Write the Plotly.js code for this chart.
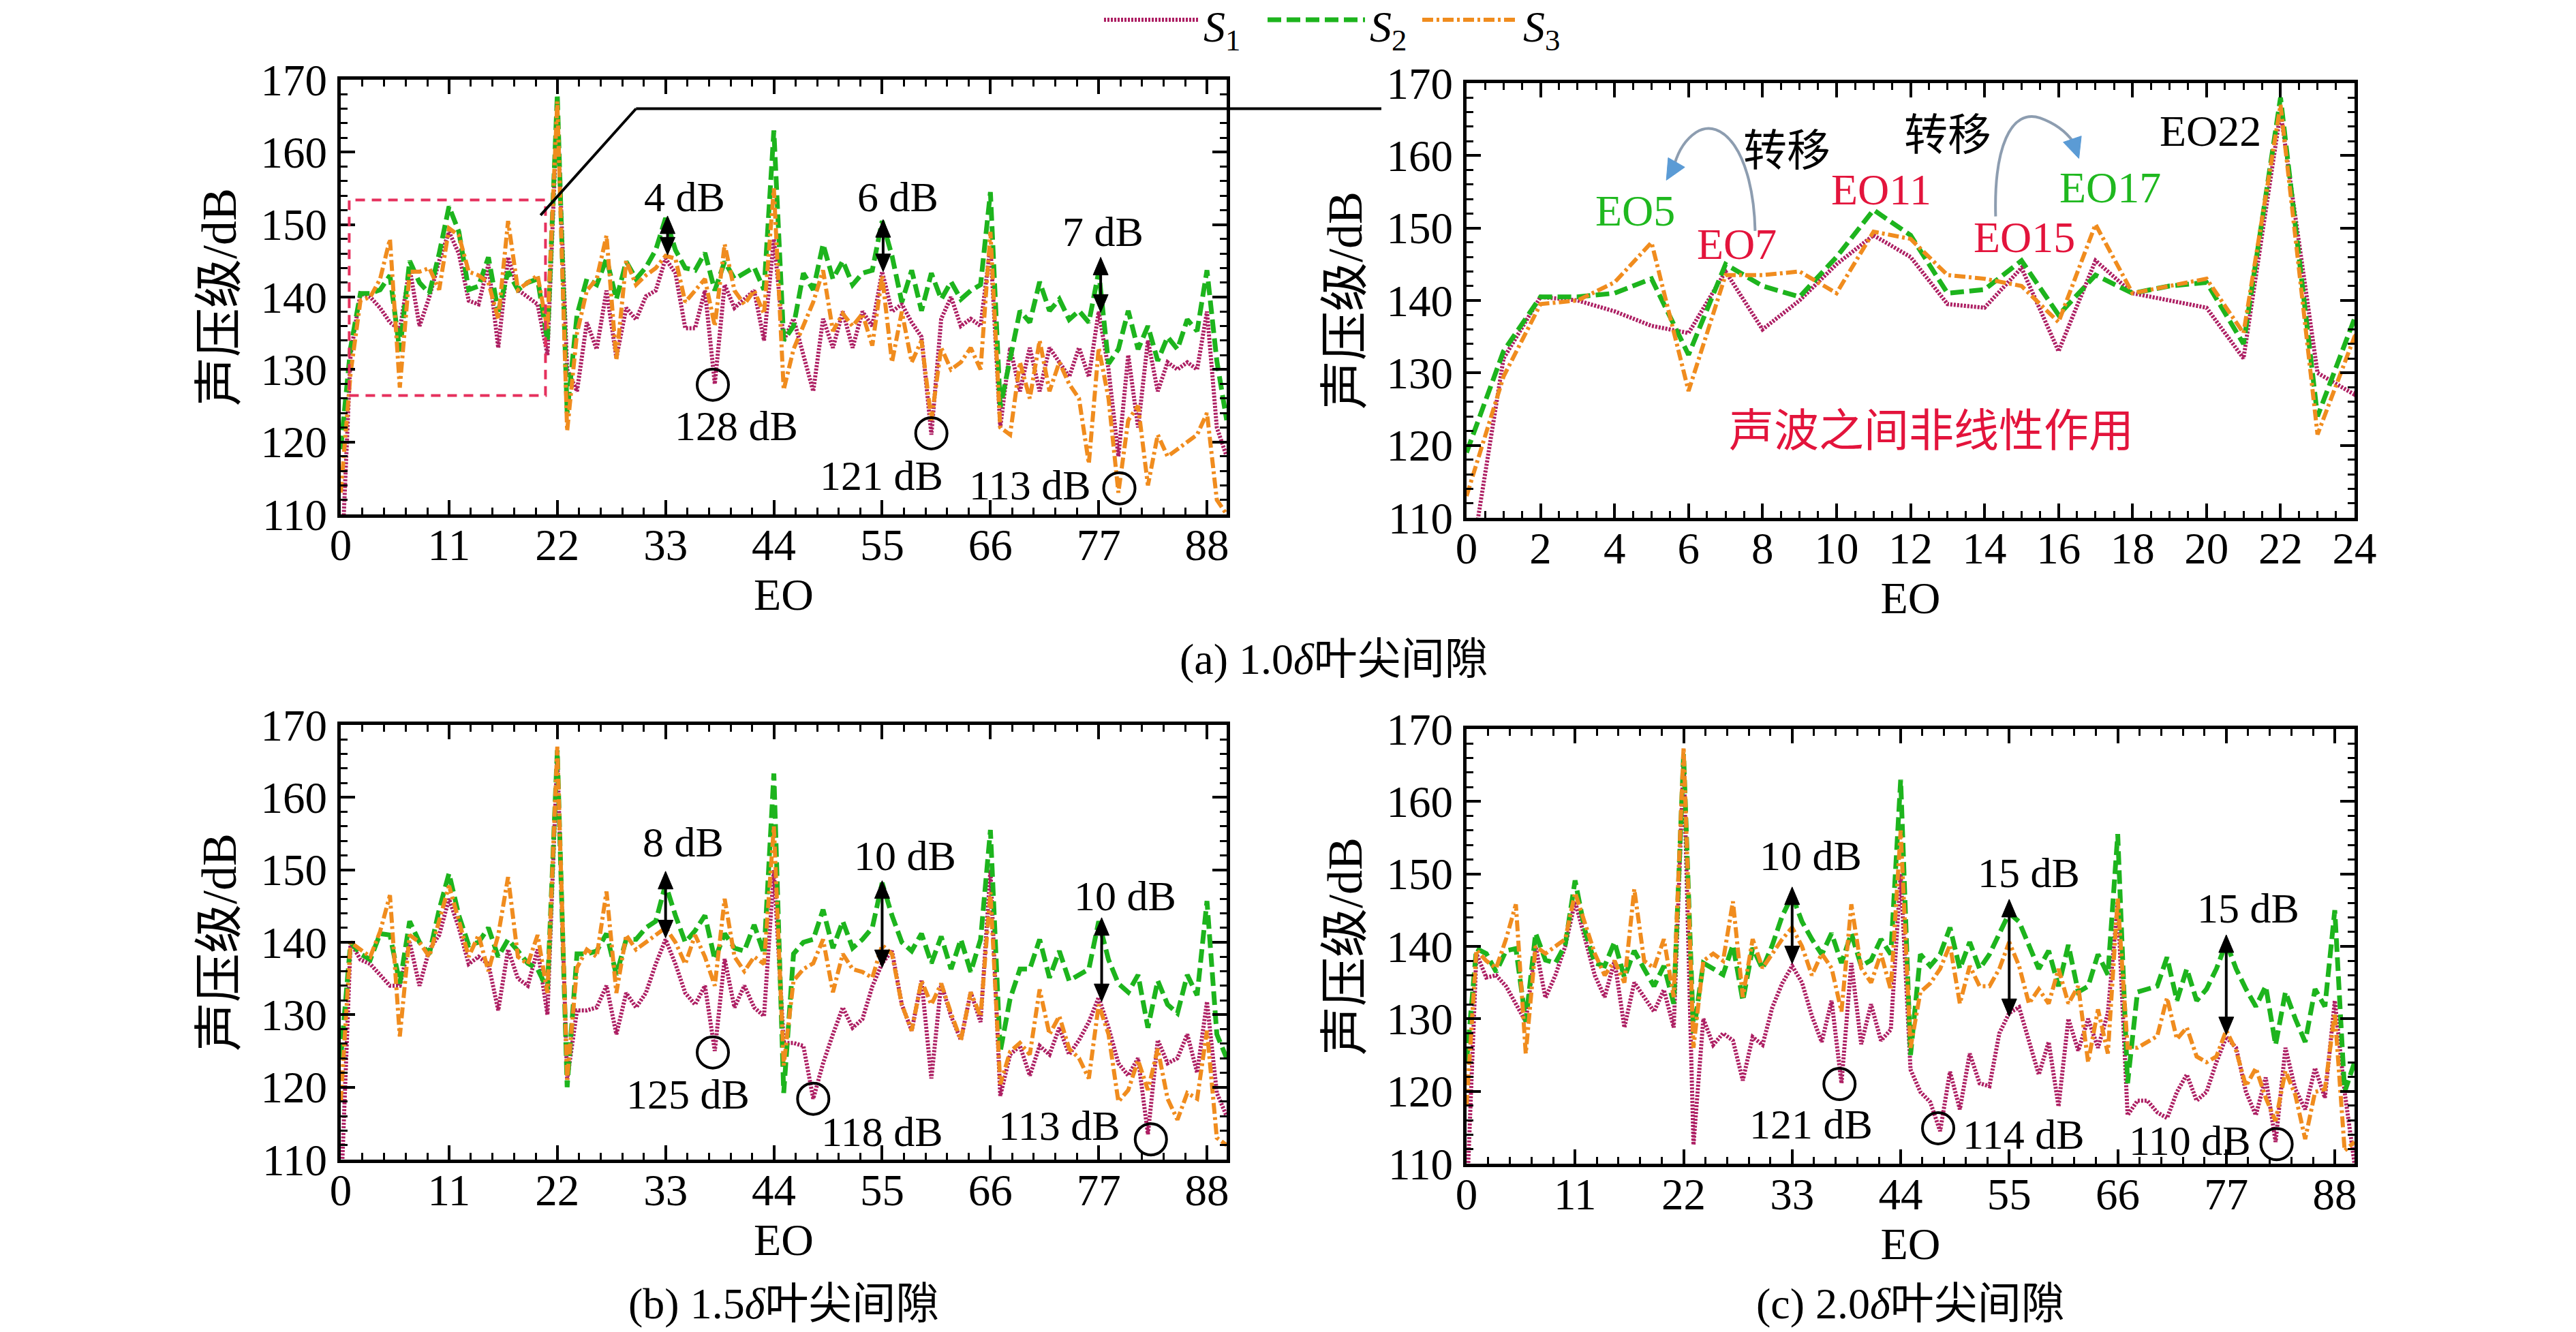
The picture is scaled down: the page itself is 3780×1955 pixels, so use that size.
<!DOCTYPE html>
<html><head><meta charset="utf-8">
<script src="https://cdn.plot.ly/plotly-3.0.1.min.js"></script>
<style>html,body{margin:0;padding:0;background:#fff;}#chart{width:3780px;height:1955px;}</style>
</head><body><div id="chart"></div>
<script>
// ---------------- data ----------------
const EO = [0,1,2,3,4,5,6,7,8,9,10,11,12,13,14,15,16,17,18,19,20,21,22,23,24,25,26,27,28,29,30,31,32,33,34,35,36,37,38,39,40,41,42,43,44,45,46,47,48,49,50,51,52,53,54,55,56,57,58,59,60,61,62,63,64,65,66,67,68,69,70,71,72,73,74,75,76,77,78,79,80,81,82,83,84,85,86,87,88,89,90];
const seriesNames = ['S1','S2','S3'];
const seriesLabels = ['<i>S</i><sub>1</sub>','<i>S</i><sub>2</sub>','<i>S</i><sub>3</sub>'];

// (a) 1.0δ tip clearance
const S1_a = [100,132,140.5,140,138.5,136.5,135.5,144,136,140,145,149,146,139.5,139,144.5,133,145.5,141,140,139,132,166,130,127,136.5,132.8,140.9,131.6,138.5,136.9,140.1,140.9,145.3,143.3,135.7,135.7,140.9,128,141.7,138.5,139.7,140.9,134,148,134,137,132,127,137,133,138,133,138,136,143.5,138,139,136.5,134.5,121,137,140,136,137,136,147,122,133,127,133,127,133,131,129,133,129,138,130,118,132,122,134,127,131,130,131,130,138,122,118];
const S2_a = [119,133,140.5,140.5,141,143,132.5,145,142,140.5,146,152.5,149,141,141.5,145.5,138,143.5,141,142,142.5,134,168,124,137.5,142.5,141.7,145.3,139.7,144.9,142.5,144.1,146.5,150.9,146.5,144,143.7,146.1,140.9,144.9,142.5,143.3,144.1,141,163,134,136,143.3,141,147.3,142.5,145,141.7,143.3,143.7,150.5,145.7,139.3,143.7,138.1,143.3,139.7,142.1,139.7,140.9,141.7,154.5,124.8,131.6,138.1,136.5,142.1,138.1,139.7,136.9,138.1,136.5,143.5,130.8,132.8,138.1,132.8,136,131.2,134.5,132.8,136.9,135.3,143.7,131.2,123];
const S3_a = [113,129.5,139.5,140,142.5,148,127.5,143.5,143.5,144,141,149.5,148.5,143.5,143,142,137,150.5,141,142,143,135.5,167,121.5,135,140.9,142.5,148.5,131.3,145,141.7,143,144,145.7,145.3,139.3,140.9,142.5,136,147.3,140.9,139,140.9,137.7,155,127.2,132.8,136,139.3,143.7,135.3,137.7,136,137.7,133.3,142.9,131,138,131,134,123,133,130,131,133,130,149,122,121,131,126,134,127,131,128,126,117,133,126,113,123,125,114,121,118,119,120,121,124,112,110];

// (b) 1.5δ tip clearance
const S1_b = [104,140,137.6,137,135.5,134,134,140,134,139,141,146,142,137,138,137,130.6,139,135,134,139,130,166,121,130.6,130.6,131,134,127.3,133,131,133,137,140.4,137,133,131.4,134,125,137.7,131,134,131,129.8,150,126.1,126.1,125.7,118.4,123.3,127.3,131,128.2,129.4,133.9,137.1,138.8,131.4,127.8,134.7,121.2,134.3,129.8,126.5,133.1,129,150,118.8,124.5,125.7,121.6,125.7,124.5,128.2,124.5,126.5,129,132.4,128.2,123.3,121.6,124,113.5,126.5,123.3,124,127.3,122,131.8,119.2,116];
const S2_b = [124,140,138.4,137.6,141.2,141,134.3,142.9,140,138.4,144.5,149.5,143.7,139.6,140,142,138,140.4,138.8,137.1,136.3,133.5,166.5,120,138.4,138.4,138.8,141.2,135.5,140.4,140.4,142,142.9,148,143.7,140,141.6,143.7,137.6,141.2,139.2,138.8,142.4,138.4,163.3,119.2,138.4,140,140.4,144.5,139.2,142.9,139.2,140.4,142,148.2,143.7,140,138.8,141.2,137.1,140.8,136.3,140.4,135.9,140.4,155.5,124.9,132.2,136.3,136.3,140.4,135.1,138.8,134.7,135.5,136.3,142.9,137.6,134.3,133.1,135.5,128.2,134.7,131.4,130.2,135.5,132.7,145.7,127.3,124];
const S3_b = [118,140,139,138,141.5,146.5,127,141,140,138,143,147.8,143,138,141,136,141,149,138,137,141,133,167,121,136.5,139,138,147,133,141,139,140,141,142,140,137,141,138,134,146,138,136,138,137,156,123,134.7,136.3,137.1,140.4,133.1,138.4,136.3,135.9,135.1,139.6,138.4,131.4,127.8,134.7,131.4,134.3,130.2,126.5,133.1,129.8,146.9,120.4,124.9,126.1,124.5,133.5,127.3,129.8,125.3,124,121.2,131.4,127.3,118,119.6,123.7,119.6,125.3,118.4,115.5,119.2,118.4,127.8,113,112];

// (c) 2.0δ tip clearance
const S1_c = [104,139,135.7,136,134.5,132,129.6,140,132.9,136,140,146.2,141,136,133,138,128.8,135,133,131,134,128.8,166,112.6,130,126.4,128,127,121.5,127.5,126.4,131.6,134.9,137.3,135,130.4,126.8,132.5,121.1,137.7,126.5,132,127,128.5,150,123,119.9,118.5,114.5,122.7,117.5,125.2,121.1,120.7,128,130.8,131.6,126.8,122.3,126.8,117.9,130,125.6,130,126,130.8,146,116.7,118.7,118.7,117.1,116.3,119.9,122.3,118.7,119.9,124,127.5,126,119.9,116.7,121.9,113,126,120.3,117.5,123.2,119.1,132.5,119.9,110];
const S2_c = [124,139.7,139,136.5,139.4,139.7,129.6,141.8,138.1,137.7,140.2,149.1,142.2,137.7,137.3,140.6,135.7,139.4,136.9,134.5,137.3,132.1,166.5,128,137.7,136.9,136.1,140.2,132.5,139.8,136.9,140.2,144.2,147,143.4,141,138.9,141.8,137.7,141.8,137.3,138.1,141,138.9,163,125,138.9,137.3,138.9,142.6,136.9,140.6,136.9,138.9,141.8,144.6,143.4,140.2,136.9,139.4,134.5,140.2,133.7,134.5,138.9,136.1,155.5,121.1,133.7,134.1,134.5,138.5,132.5,136.9,132.5,134.1,136.9,140.5,136.9,134.1,131.7,134.5,126.4,133.7,130,126.8,134.1,131.7,145,119.9,124];
const S3_c = [118,139.5,138,137,141,145.8,125.2,140,139,140,141,147.4,143,139,136,138,135,147.9,138,137,141,133,167.5,126,138,139,138,146.2,133,141,137,139,141,142.6,140,136,139,137,131,145.8,137,135,139,134,156,126,133.7,134.9,136.9,140.2,132.1,137.3,134.5,134.5,136.9,140.6,137.3,132.1,134.1,132.1,136.9,132.1,134.5,124,131.3,125.2,146.6,126,126,126.8,127.6,132.9,127.2,128.8,124.8,124,124.8,128.4,125.6,120.7,123.2,119.1,115.9,122.8,119.5,113.4,119.9,120.3,130.8,111.8,113];

// tick labels
const mainTickVals = [0,11,22,33,44,55,66,77,88];
const insetTickVals = [0,2,4,6,8,10,12,14,16,18,20,22,24];
const yTickVals = [110,120,130,140,150,160,170];

const panelCaptions = ['(a) 1.0<i>δ</i>叶尖间隙','(b) 1.5<i>δ</i>叶尖间隙','(c) 2.0<i>δ</i>叶尖间隙'];
const xTitle = 'EO';
const yTitle = '声压级/dB';

// ---------------- styles ----------------
const SERIF = "'Liberation Serif','Noto Sans CJK SC',serif";
const styles = [
  {color:'#ad1f63', width:6, dash:'3px,2px'},
  {color:'#1db41d', width:7, dash:'20px,8px'},
  {color:'#f08c1e', width:6, dash:'16px,5px,4px,5px'}
];
const RED = '#e3143c', GREEN = '#1fb81f', ARROWBLUE = '#5b9bd5';

const W = 3780, H = 1955;
const domA = {x:[500/W, 1800/W], y:[1-755/H, 1-117/H]};
const domI = {x:[2152/W, 3455/W], y:[1-760/H, 1-122/H]};
const domB = {x:[500/W, 1800/W], y:[1-1702/H, 1-1064/H]};
const domC = {x:[2152/W, 3455/W], y:[1-1708/H, 1-1070/H]};
const rMain = [0,90], rInset = [0,24], rY = [110,170];

const panels = [
  {xa:'x', ya:'y', data:[S1_a,S2_a,S3_a]},
  {xa:'x2', ya:'y2', data:[S1_a,S2_a,S3_a]},
  {xa:'x3', ya:'y3', data:[S1_b,S2_b,S3_b]},
  {xa:'x4', ya:'y4', data:[S1_c,S2_c,S3_c]}
];
const traces = [];
panels.forEach(p => {
  p.data.forEach((arr, k) => {
    traces.push({type:'scatter', mode:'lines', x:EO, y:arr, xaxis:p.xa, yaxis:p.ya,
      name:seriesNames[k], showlegend:false, line:Object.assign({}, styles[k]), hoverinfo:'skip'});
  });
});

function axisBase(extra){
  return Object.assign({
    showline:true, linewidth:5, linecolor:'#000', mirror:'ticks',
    ticks:'inside', ticklen:21, tickwidth:4, tickcolor:'#000',
    showgrid:false, zeroline:false, fixedrange:true,
    tickfont:{family:SERIF, size:65, color:'#000'}
  }, extra);
}
function xAxis(dom, rng, vals, minorStep, anchor){
  return axisBase({domain:dom, range:rng, anchor:anchor, tickmode:'array', tickvals:vals, ticktext:vals.map(String),
    ticklabelstandoff:-16,
    minor:{ticks:'inside', ticklen:10, tickwidth:3, tickcolor:'#000', tickmode:'linear', tick0:0, dtick:minorStep},
    title:{text:xTitle, font:{family:SERIF, size:66, color:'#000'}, standoff:6}});
}
function yAxis(dom, anchor){
  return axisBase({domain:dom, range:rY, anchor:anchor, tickmode:'array', tickvals:yTickVals, ticktext:yTickVals.map(String),
    ticklabelstandoff:2,
    minor:{ticks:'inside', ticklen:10, tickwidth:3, tickcolor:'#000', tickmode:'linear', tick0:110, dtick:2},
    title:{text:yTitle, font:{family:SERIF, size:72, color:'#000'}, standoff:14}});
}

const pa = (dom, rng, v) => dom[0] + (v - rng[0]) / (rng[1] - rng[0]) * (dom[1] - dom[0]);
const pxPer = (dom, rng, total) => (dom[1] - dom[0]) * total / (rng[1] - rng[0]);
const scale = {
  x:{px:pxPer(domA.x, rMain, W), py:pxPer(domA.y, rY, H)},
  x2:{px:pxPer(domI.x, rInset, W), py:pxPer(domI.y, rY, H)},
  x3:{px:pxPer(domB.x, rMain, W), py:pxPer(domB.y, rY, H)},
  x4:{px:pxPer(domC.x, rMain, W), py:pxPer(domC.y, rY, H)}
};

// ---------------- annotations ----------------
const ann = [];
function txt(xr, yr, x, y, t, opts){
  ann.push(Object.assign({xref:xr, yref:yr, x:x, y:y, text:t, showarrow:false,
    font:{family:SERIF, size:62, color:'#000'}, xanchor:'center', yanchor:'middle'}, opts||{}));
}
const shapes = [];
// arrow head (triangle) with tip at (tx,ty) pointing along pixel direction (dx,dy) (y up)
function head(xr, yr, tx, ty, dx, dy, color, hl, hw){
  const s = scale[xr]; const n = Math.hypot(dx, dy); dx /= n; dy /= n;
  const bx = -dx*hl, by = -dy*hl, qx = -dy*hw, qy = dx*hw;
  const p = (ox, oy) => (tx + ox/s.px).toFixed(4) + ',' + (ty + oy/s.py).toFixed(4);
  shapes.push({type:'path', xref:xr, yref:yr, path:'M ' + p(0,0) + ' L ' + p(bx+qx, by+qy) + ' L ' + p(bx-qx, by-qy) + ' Z',
    fillcolor:color, line:{color:color, width:1}});
}
function dbl(xr, yr, x, yTop, yBot){
  const s = scale[xr]; const hl = 26;
  shapes.push({type:'line', xref:xr, yref:yr, x0:x, x1:x, y0:yTop - hl*0.8/s.py, y1:yBot + hl*0.8/s.py, line:{color:'#000', width:4}});
  head(xr, yr, x, yTop, 0, 1, '#000', hl, 11);
  head(xr, yr, x, yBot, 0, -1, '#000', hl, 11);
}
// panel (a)
txt('x','y',34.9,153.8,'4 dB'); dbl('x','y',33.2,151.2,145.8);
txt('x','y',56.6,153.8,'6 dB'); dbl('x','y',55.1,150.7,143.5);
txt('x','y',77.4,149.0,'7 dB'); dbl('x','y',77.2,145.5,137.9);
txt('x','y',40.2,122.2,'128 dB');
txt('x','y',54.9,115.4,'121 dB');
txt('x','y',70.0,114.0,'113 dB');
// panel (b)
txt('x3','y3',34.8,153.8,'8 dB'); dbl('x3','y3',33,149.8,140.6);
txt('x3','y3',57.3,151.9,'10 dB'); dbl('x3','y3',55,148.5,136.5);
txt('x3','y3',79.7,146.4,'10 dB'); dbl('x3','y3',77.3,143.4,131.8);
txt('x3','y3',35.3,119.0,'125 dB');
txt('x3','y3',55.0,113.9,'118 dB');
txt('x3','y3',73.0,114.7,'113 dB');
// panel (c)
txt('x4','y4',34.9,152.5,'10 dB'); dbl('x4','y4',33,148.2,137.6);
txt('x4','y4',57.0,150.2,'15 dB'); dbl('x4','y4',55,146.5,130.3);
txt('x4','y4',79.2,145.3,'15 dB'); dbl('x4','y4',77,141.6,127.8);
txt('x4','y4',34.9,115.5,'121 dB');
txt('x4','y4',56.5,114.0,'114 dB');
txt('x4','y4',73.3,113.2,'110 dB');
// inset
txt('x2','y2',8.66,160.6,'转移',{font:{family:SERIF,size:64,color:'#000'}});
txt('x2','y2',13.0,162.8,'转移',{font:{family:SERIF,size:64,color:'#000'}});
txt('x2','y2',20.1,163.4,'EO22',{font:{family:SERIF,size:64,color:'#000'}});
txt('x2','y2',4.55,152.4,'EO5',{font:{family:SERIF,size:64,color:GREEN}});
txt('x2','y2',7.3,147.8,'EO7',{font:{family:SERIF,size:64,color:RED}});
txt('x2','y2',11.2,155.3,'EO11',{font:{family:SERIF,size:64,color:RED}});
txt('x2','y2',15.07,148.7,'EO15',{font:{family:SERIF,size:64,color:RED}});
txt('x2','y2',17.4,155.6,'EO17',{font:{family:SERIF,size:64,color:GREEN}});
txt('x2','y2',12.56,122.0,'声波之间非线性作用',{font:{family:SERIF,size:66,color:RED}});
// captions
txt('paper','paper',1957/W,1-968/H,panelCaptions[0],{font:{family:SERIF,size:64,color:'#000'}});
txt('paper','paper',1150/W,1-1913/H,panelCaptions[1],{font:{family:SERIF,size:64,color:'#000'}});
txt('paper','paper',2803/W,1-1913/H,panelCaptions[2],{font:{family:SERIF,size:64,color:'#000'}});
// legend (drawn by hand: long line samples as in the original)
const legY = 1 - 29/H;
const legLines = [[1620,1759],[1860,2003],[2087,2228]];
legLines.forEach((l,k) => {
  txt('paper','paper',(l[1]+5)/W,1-2/H,seriesLabels[k],{xanchor:'left',yanchor:'top',font:{family:SERIF,size:64,color:'#000'}});
  shapes.push({type:'line', xref:'paper', yref:'paper', x0:l[0]/W, x1:l[1]/W, y0:legY, y1:legY,
    line:{color:styles[k].color, width:styles[k].width, dash:styles[k].dash}});
});

// ---------------- shapes ----------------
function circ(xr, yr, cx, cy){
  const s = scale[xr]; const r = 23;
  shapes.push({type:'circle', xref:xr, yref:yr, x0:cx-r/s.px, x1:cx+r/s.px, y0:cy-r/s.py, y1:cy+r/s.py, line:{color:'#000', width:4}});
}
circ('x','y',37.8,127.9); circ('x','y',60.0,121.2); circ('x','y',79.1,113.6);
circ('x3','y3',37.8,124.8); circ('x3','y3',48.0,118.4); circ('x3','y3',82.3,112.8);
circ('x4','y4',37.8,121.0); circ('x4','y4',47.8,114.9); circ('x4','y4',82.1,112.7);
// zoom box and connector
shapes.push({type:'rect', xref:'x', yref:'y', x0:0.86, x1:20.8, y0:126.4, y1:153.4, line:{color:'#e5305d', width:4, dash:'14px,10px'}});
shapes.push({type:'line', xref:'x', yref:'y', x0:20.3, y0:151.3, x1:30, y1:166, line:{color:'#000', width:4}});
shapes.push({type:'line', xref:'paper', yref:'paper', x0:pa(domA.x, rMain, 30), y0:pa(domA.y, rY, 166), x1:2027/W, y1:pa(domA.y, rY, 166), line:{color:'#000', width:4}});
// curved transfer arrows in inset
shapes.push({type:'path', xref:'x2', yref:'y2', path:'M 7.8,149.6 C 7.75,160.5 6.9,165.5 6.2,163.2 C 5.85,162 5.7,160.2 5.62,158.8', line:{color:'#8d9db0', width:4}});
shapes.push({type:'path', xref:'x2', yref:'y2', path:'M 14.3,151.6 C 14.25,161 14.7,166.5 15.5,165.2 C 16.05,164.2 16.3,162.6 16.4,161.9', line:{color:'#8d9db0', width:4}});
head('x2','y2',5.4,156.6,-12,-21,ARROWBLUE,30,14);
head('x2','y2',16.55,159.6,8,-23.5,ARROWBLUE,30,14);

const layout = {
  width:W, height:H, margin:{l:0,r:0,t:0,b:0}, paper_bgcolor:'#fff', plot_bgcolor:'#fff',
  showlegend:false, font:{family:SERIF, color:'#000'},
  xaxis: xAxis(domA.x, rMain, mainTickVals, 2.2, 'y'),
  yaxis: yAxis(domA.y, 'x'),
  xaxis2: xAxis(domI.x, rInset, insetTickVals, 0.5, 'y2'),
  yaxis2: yAxis(domI.y, 'x2'),
  xaxis3: xAxis(domB.x, rMain, mainTickVals, 2.2, 'y3'),
  yaxis3: yAxis(domB.y, 'x3'),
  xaxis4: xAxis(domC.x, rMain, mainTickVals, 2.2, 'y4'),
  yaxis4: yAxis(domC.y, 'x4'),
  annotations: ann, shapes: shapes
};
Plotly.newPlot('chart', traces, layout, {staticPlot:true, displayModeBar:false});
</script></body></html>
